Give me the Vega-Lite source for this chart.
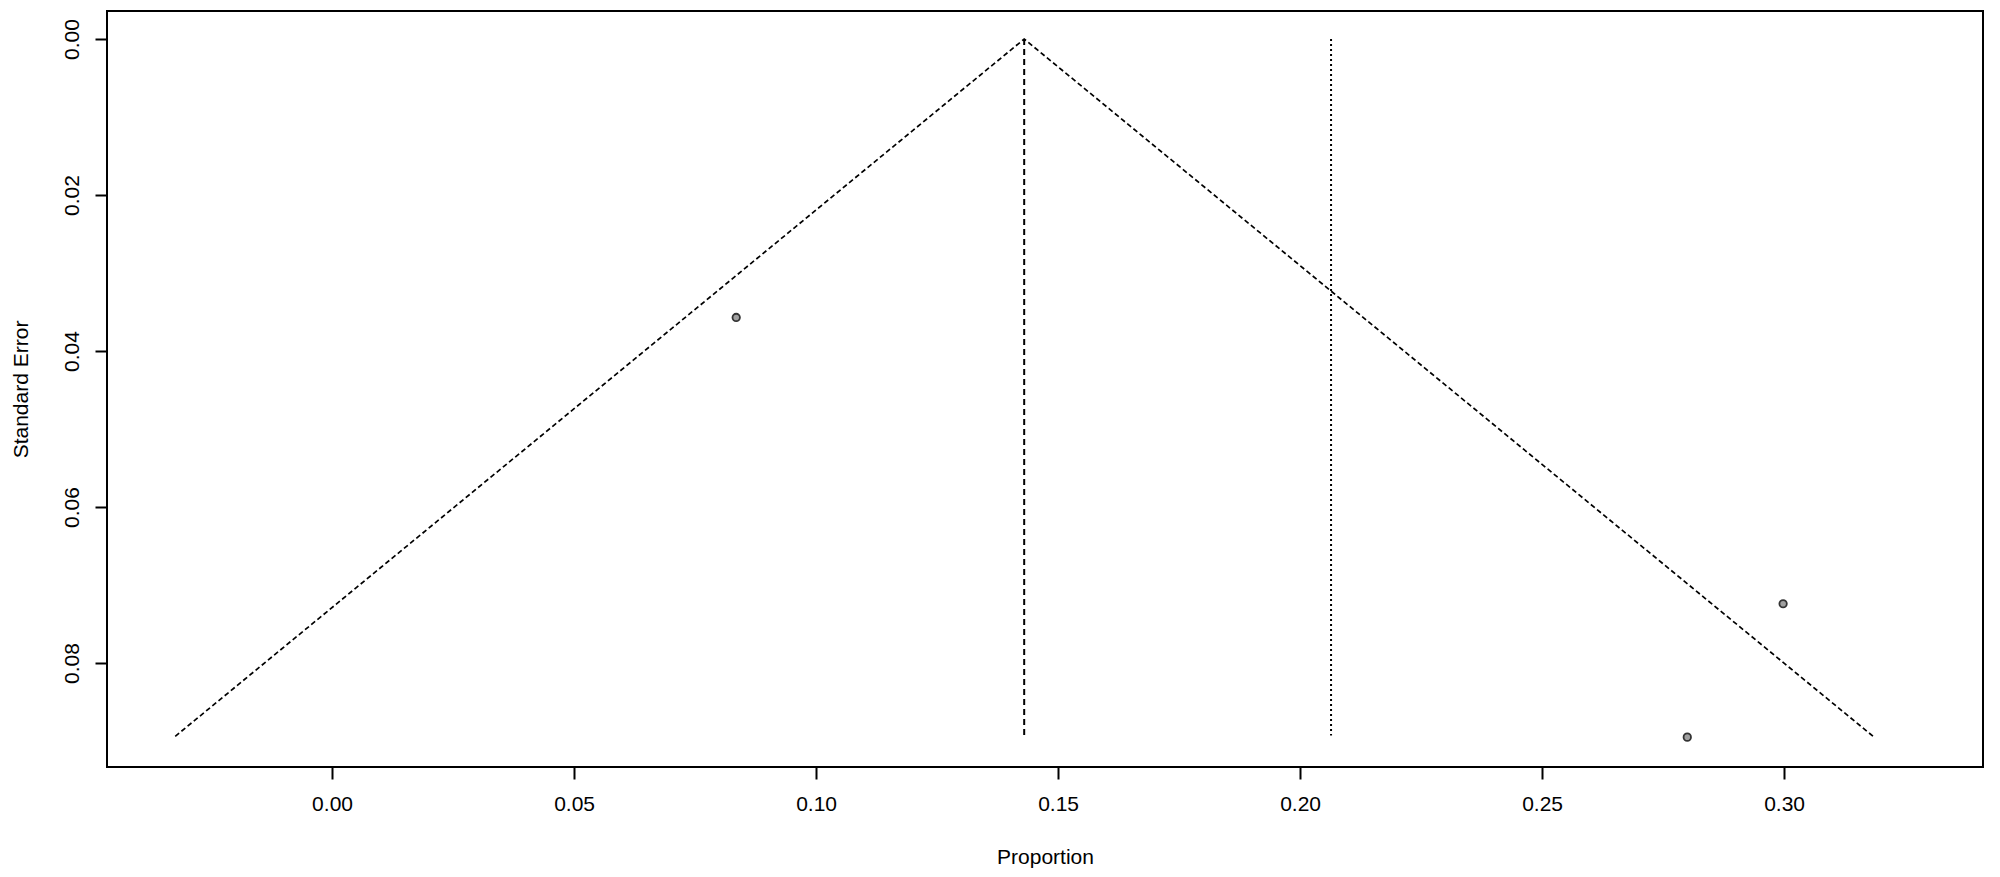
{
  "$schema": "https://vega.github.io/schema/vega-lite/v6.json",
  "width": 1876,
  "height": 756,
  "autosize": "none",
  "padding": {"left": 107, "top": 11, "right": 17, "bottom": 110},
  "background": "white",
  "config": {
    "view": {"stroke": "black", "strokeWidth": 2},
    "font": "Liberation Sans",
    "axis": {
      "labelFont": "Liberation Sans",
      "titleFont": "Liberation Sans",
      "labelFontSize": 21,
      "titleFontSize": 21,
      "titleFontWeight": "normal",
      "labelColor": "black",
      "titleColor": "black",
      "tickColor": "black",
      "tickWidth": 2,
      "tickSize": 12,
      "domain": false,
      "grid": false
    }
  },
  "datasets": {
    "studies": [
      {"proportion": 0.0835, "se": 0.0357},
      {"proportion": 0.2998, "se": 0.0724},
      {"proportion": 0.2800, "se": 0.0895}
    ],
    "funnel": [
      {"proportion": -0.0324, "se": 0.0894, "order": 1},
      {"proportion": 0.1430, "se": 0.0, "order": 2},
      {"proportion": 0.3184, "se": 0.0894, "order": 3}
    ],
    "fixed": [
      {"proportion": 0.1430, "se_top": 0.0, "se_bottom": 0.0893}
    ],
    "random": [
      {"proportion": 0.2064, "se_top": 0.0, "se_bottom": 0.0893}
    ]
  },
  "layer": [
    {
      "data": {"name": "funnel"},
      "mark": {"type": "line", "color": "black", "strokeWidth": 1.7, "strokeDash": [5, 3]},
      "encoding": {
        "x": {
          "field": "proportion", "type": "quantitative",
          "scale": {"domain": [-0.0465, 0.3411], "nice": false, "zero": false},
          "axis": {
            "values": [0, 0.05, 0.1, 0.15, 0.2, 0.25, 0.3],
            "format": ".2f",
            "title": "Proportion",
            "labelPadding": 14,
            "titleBaseline": "alphabetic",
            "titleY": 96
          }
        },
        "y": {
          "field": "se", "type": "quantitative",
          "scale": {"domain": [-0.00359, 0.09333], "nice": false, "zero": false, "reverse": true},
          "axis": {
            "values": [0, 0.02, 0.04, 0.06, 0.08],
            "format": ".2f",
            "title": "Standard Error",
            "labelAngle": -90,
            "labelAlign": "center",
            "labelBaseline": "bottom",
            "labelPadding": 13,
            "titleBaseline": "alphabetic",
            "titleAngle": -90,
            "titleX": -80,
            "titleY": 378
          }
        },
        "order": {"field": "order", "type": "quantitative"}
      }
    },
    {
      "data": {"name": "fixed"},
      "mark": {"type": "rule", "color": "black", "strokeWidth": 2, "strokeDash": [6, 4]},
      "encoding": {
        "x": {"field": "proportion", "type": "quantitative"},
        "y": {"field": "se_top", "type": "quantitative"},
        "y2": {"field": "se_bottom"}
      }
    },
    {
      "data": {"name": "random"},
      "mark": {"type": "rule", "color": "black", "strokeWidth": 2, "strokeDash": [2, 3]},
      "encoding": {
        "x": {"field": "proportion", "type": "quantitative"},
        "y": {"field": "se_top", "type": "quantitative"},
        "y2": {"field": "se_bottom"}
      }
    },
    {
      "data": {"name": "studies"},
      "mark": {"type": "point", "shape": "circle", "filled": false, "fill": "#a0a0a0", "fillOpacity": 1, "stroke": "#333333", "strokeWidth": 1.8, "opacity": 1, "size": 55},
      "encoding": {
        "x": {"field": "proportion", "type": "quantitative"},
        "y": {"field": "se", "type": "quantitative"}
      }
    }
  ]
}
